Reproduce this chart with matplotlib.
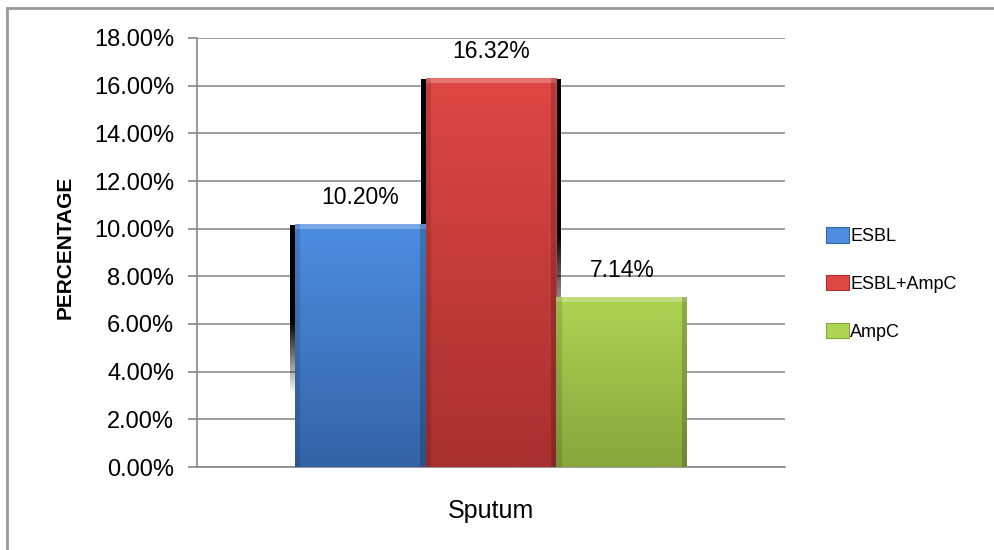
import numpy as np
import matplotlib
matplotlib.use("Agg")
import matplotlib.pyplot as plt
from matplotlib.lines import Line2D
from matplotlib.colors import LinearSegmentedColormap
from matplotlib.patches import Rectangle

categories = ["Sputum"]
series = ["ESBL", "ESBL+AmpC", "AmpC"]
values = [10.20, 16.32, 7.14]
value_labels = ["10.20%", "16.32%", "7.14%"]
yticks = [0, 2, 4, 6, 8, 10, 12, 14, 16, 18]
ytick_labels = ["0.00%", "2.00%", "4.00%", "6.00%", "8.00%", "10.00%",
                "12.00%", "14.00%", "16.00%", "18.00%"]

top_colors = ["#4d8ee0", "#de4744", "#aed453"]
bot_colors = ["#3463a6", "#a8302f", "#87a63c"]
shadow_sides = [(True, False), (True, True), (False, False)]

plt.rcParams['font.family'] = ['Liberation Sans', 'DejaVu Sans']

fig = plt.figure(figsize=(9.95, 5.5), dpi=100)
ax = fig.add_axes([197/995, 1-467/550, (785-197)/995, (467-38)/550])

width = 1.0
xs = np.array([-1.0, 0.0, 1.0])
ax.set_xlim(-2.245, 2.245)
ax.set_ylim(0, 18)

# shadows (3D effect)
sw = 0.035
for x, v, (sl, sr) in zip(xs, values, shadow_sides):
    grad = np.linspace(0, 1, 256).reshape(-1, 1)
    alpha = np.clip((grad - 0.3) / 0.3, 0, 1)
    img = np.zeros((256, 1, 4))
    img[..., 3] = alpha
    if sl:
        ax.imshow(img, extent=[x - width/2 - sw, x - width/2 + 0.01, 0, v - 0.05],
                  origin='lower', aspect='auto', zorder=2, interpolation='bilinear')
    if sr:
        ax.imshow(img, extent=[x + width/2 - 0.01, x + width/2 + sw, 0, v - 0.05],
                  origin='lower', aspect='auto', zorder=2, interpolation='bilinear')

bars = ax.bar(xs, values, width=width, zorder=3, edgecolor='none',
              color=top_colors)
for b, tc, bc in zip(bars, top_colors, bot_colors):
    x0, y0 = b.get_x(), b.get_y()
    w, h = b.get_width(), b.get_height()
    cmap = LinearSegmentedColormap.from_list("g", [bc, tc])
    grad = np.linspace(0, 1, 256).reshape(-1, 1)
    im = ax.imshow(grad, cmap=cmap, extent=[x0, x0 + w, y0, y0 + h],
                   origin='lower', aspect='auto', zorder=4, interpolation='bilinear')
    im.set_clip_path(b)
    # bevel highlights
    ax.add_patch(Rectangle((x0, y0 + h - 0.22), w, 0.22, facecolor='white',
                           alpha=0.25, edgecolor='none', zorder=5))
    ax.add_patch(Rectangle((x0, y0), 0.04, h, facecolor='black',
                           alpha=0.12, edgecolor='none', zorder=5))
    ax.add_patch(Rectangle((x0 + w - 0.04, y0), 0.04, h, facecolor='black',
                           alpha=0.18, edgecolor='none', zorder=5))

for x, v, lab in zip(xs, values, value_labels):
    ax.annotate(lab, (x, v), xytext=(0, 19), textcoords='offset points',
                ha='center', va='center', fontsize=16.5, zorder=6)

ax.set_yticks(yticks)
ax.set_yticklabels(ytick_labels, fontsize=17)
ax.set_xticks([0])
ax.set_xticklabels(categories, fontsize=18)
ax.tick_params(axis='x', length=0, pad=23)
ax.tick_params(axis='y', length=6.5, width=1.2, color='#888888', direction='out', pad=10)
ax.yaxis.grid(True, color='#8c8c8c', linewidth=1.2, zorder=1)
ax.set_axisbelow(True)
for s in ['top', 'right']:
    ax.spines[s].set_visible(False)
ax.spines['left'].set_color('#888888')
ax.spines['left'].set_linewidth(1.2)
ax.spines['bottom'].set_color('#888888')
ax.spines['bottom'].set_linewidth(1.2)

fig.text(65/995, 1 - 247/550, "PERCENTAGE", rotation=90, ha='center', va='center',
         fontsize=15, fontweight='bold')

# legend
handles = [Rectangle((0, 0), 1, 1, facecolor=c, edgecolor=bc, linewidth=0.8)
           for c, bc in zip(top_colors, bot_colors)]
leg = fig.legend(handles, series, loc='upper left', bbox_to_anchor=(826/995, 1 - 227/550),
                 frameon=False, fontsize=13, handlelength=1.25, handleheight=0.95,
                 handletextpad=0.08, labelspacing=1.65, borderaxespad=0, borderpad=0)

# outer border
fig.add_artist(Line2D([7/995, 1], [1 - 8/550, 1 - 8/550], color='#999999', lw=2.0,
                      transform=fig.transFigure))
fig.add_artist(Line2D([7/995, 7/995], [0, 1 - 8/550], color='#999999', lw=2.0,
                      transform=fig.transFigure))

fig.savefig("out.png", dpi=100)
